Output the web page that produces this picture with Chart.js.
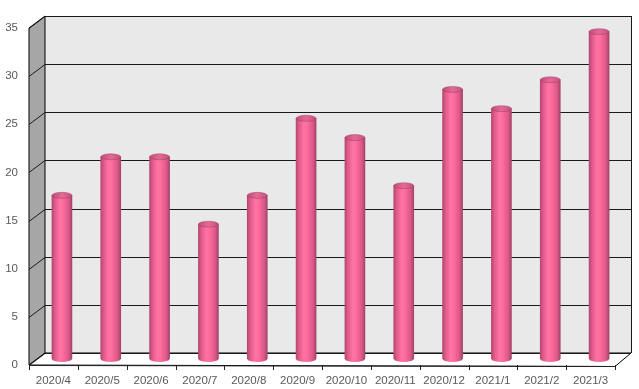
<!DOCTYPE html>
<html>
<head>
<meta charset="utf-8">
<script src="https://cdn.jsdelivr.net/npm/chart.js@4"></script>
<style>
  html, body { margin: 0; padding: 0; background: #fff; }
  #wrap { width: 639px; height: 389px; }
</style>
</head>
<body>
<div id="wrap"><canvas id="chart" width="639" height="389"></canvas></div>
<script>
const months = ['2020/4', '2020/5', '2020/6', '2020/7', '2020/8', '2020/9', '2020/10', '2020/11', '2020/12', '2021/1', '2021/2', '2021/3'];
const counts = [17, 21, 21, 14, 17, 25, 23, 18, 28, 26, 29, 34];
const yTicks = [0, 5, 10, 15, 20, 25, 30, 35];

// depth of the fake 3d box (back wall offset) and where the bars sit
const DEPTH_X = 16, DEPTH_Y = -12;
const BAR_X = 8.5, BAR_Y = -6;
const BAR_W = 20;

const cylinderGradient = (ctx, cx, w) => {
  const g = ctx.createLinearGradient(cx - w / 2, 0, cx + w / 2, 0);
  g.addColorStop(0, '#b34870');
  g.addColorStop(0.15, '#e05a8a');
  g.addColorStop(0.4, '#ff74a5');
  g.addColorStop(0.55, '#ff6c9e');
  g.addColorStop(0.85, '#d95887');
  g.addColorStop(1, '#a4436a');
  return g;
};

const barFill = (c) => {
  const xs = c.chart.scales.x;
  if (!xs || c.dataIndex === undefined) return '#ff6c9e';
  const px = xs.getPixelForValue(c.dataIndex);
  if (!isFinite(px)) return '#ff6c9e';
  return cylinderGradient(c.chart.ctx, px, BAR_W);
};

const box3d = {
  id: 'box3d',
  beforeDatasetsDraw(chart) {
    const { ctx, chartArea: a, scales: { y } } = chart;
    ctx.save();
    ctx.lineWidth = 1;
    ctx.strokeStyle = '#000';
    // back wall
    ctx.fillStyle = '#e9e9e9';
    ctx.fillRect(a.left + DEPTH_X, a.top + DEPTH_Y, a.right - a.left, a.bottom - a.top);
    // side wall
    ctx.fillStyle = '#a6a6a6';
    ctx.beginPath();
    ctx.moveTo(a.left, a.top);
    ctx.lineTo(a.left + DEPTH_X, a.top + DEPTH_Y);
    ctx.lineTo(a.left + DEPTH_X, a.bottom + DEPTH_Y);
    ctx.lineTo(a.left, a.bottom);
    ctx.closePath();
    ctx.fill();
    ctx.stroke();
    // floor
    ctx.fillStyle = '#ffffff';
    ctx.beginPath();
    ctx.moveTo(a.left, a.bottom);
    ctx.lineTo(a.left + DEPTH_X, a.bottom + DEPTH_Y);
    ctx.lineTo(a.right + DEPTH_X, a.bottom + DEPTH_Y);
    ctx.lineTo(a.right, a.bottom + 1.5);
    ctx.closePath();
    ctx.fill();
    ctx.stroke();
    // grid lines on back wall + side wall
    yTicks.forEach(v => {
      const py = Math.round(y.getPixelForValue(v)) + 0.5;
      ctx.strokeStyle = '#1a1a1a';
      ctx.beginPath();
      ctx.moveTo(a.left, py);
      ctx.lineTo(a.left + DEPTH_X, py + DEPTH_Y);
      ctx.lineTo(a.right + DEPTH_X, py + DEPTH_Y);
      ctx.stroke();
    });
    // right edge of back wall
    ctx.beginPath();
    ctx.moveTo(a.right + DEPTH_X + 0.5, a.top + DEPTH_Y);
    ctx.lineTo(a.right + DEPTH_X + 0.5, a.bottom + DEPTH_Y);
    ctx.stroke();
    // front axis line with tick marks between categories
    ctx.strokeStyle = '#222';
    ctx.beginPath();
    ctx.moveTo(a.left, a.bottom + 0.5);
    ctx.lineTo(a.right, a.bottom + 1.5);
    const step = (a.right - a.left) / months.length;
    for (let i = 0; i <= months.length; i++) {
      const tx = Math.round(a.left + i * step) + 0.5;
      ctx.moveTo(tx, a.bottom);
      ctx.lineTo(tx, a.bottom + 5);
    }
    ctx.stroke();
    ctx.restore();

    // shift bars back into the middle of the box
    ctx.save();
    ctx.translate(BAR_X, BAR_Y);
  },
  afterDatasetsDraw(chart) {
    const { ctx } = chart;
    const meta = chart.getDatasetMeta(0);
    meta.data.forEach(bar => {
      const w = bar.width, cx = bar.x, ry = 3;
      // rounded bottom
      ctx.fillStyle = cylinderGradient(ctx, cx, w);
      ctx.beginPath();
      ctx.ellipse(cx, bar.base, w / 2, ry, 0, 0, Math.PI);
      ctx.fill();
      // top cap
      const g = ctx.createLinearGradient(cx - w / 2, 0, cx + w / 2, 0);
      g.addColorStop(0, '#bf4c78');
      g.addColorStop(0.5, '#e46a96');
      g.addColorStop(1, '#c5517d');
      ctx.fillStyle = g;
      ctx.beginPath();
      ctx.ellipse(cx, bar.y, w / 2, ry, 0, 0, Math.PI * 2);
      ctx.fill();
      ctx.strokeStyle = 'rgba(150,50,90,0.5)';
      ctx.lineWidth = 0.8;
      ctx.stroke();
    });
    ctx.restore();
  }
};

new Chart(document.getElementById('chart'), {
  type: 'bar',
  data: {
    labels: months,
    datasets: [{
      data: counts,
      backgroundColor: barFill,
      borderWidth: 0,
      barThickness: BAR_W
    }]
  },
  options: {
    responsive: false,
    animation: false,
    layout: { padding: { left: 0, right: 24, top: 28, bottom: 0 } },
    plugins: { legend: { display: false }, tooltip: { enabled: false } },
    scales: {
      x: {
        grid: { display: false, drawTicks: false },
        border: { display: false },
        ticks: { color: '#595959', font: { family: 'Liberation Sans', size: 11.5 }, padding: 9, maxRotation: 0, autoSkip: false },
        afterFit: s => { s.height = 24; }
      },
      y: {
        min: 0,
        max: 35,
        grid: { display: false, drawTicks: false },
        border: { display: false },
        ticks: { stepSize: 5, color: '#595959', font: { family: 'Liberation Sans', size: 11.5 }, padding: 11 },
        afterFit: s => { s.width = 29; }
      }
    }
  },
  plugins: [box3d]
});
</script>
</body>
</html>
